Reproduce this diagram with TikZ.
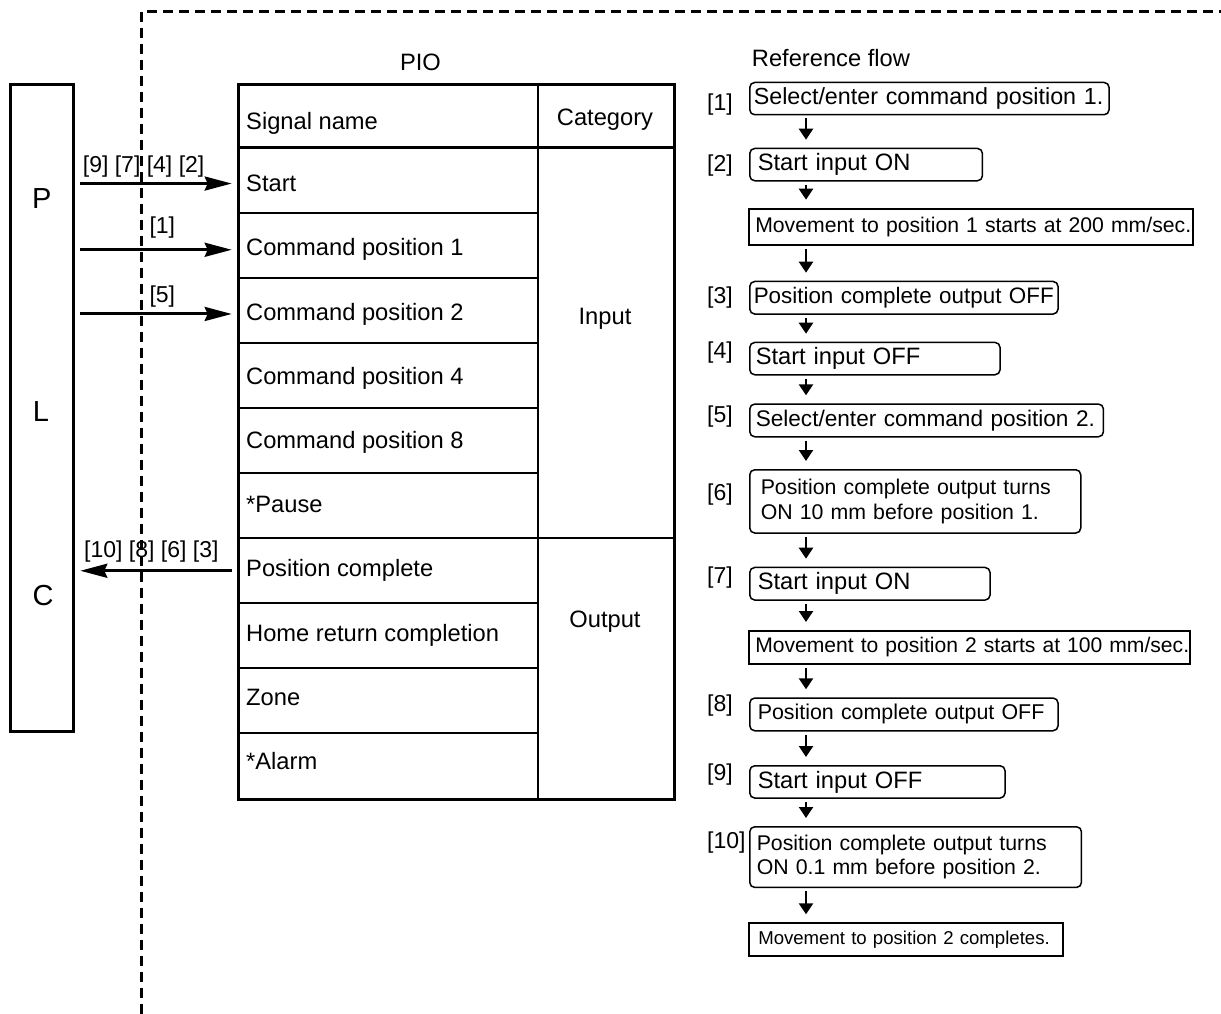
\documentclass[tikz,border=0pt]{standalone}
\usepackage{fontspec}
\setmainfont{Liberation Sans}
\usetikzlibrary{arrows.meta}
\newcommand\fsz[1]{\fontsize{#1}{24.4}\selectfont}
\tikzset{
  flowbox/.style={draw, line width=1.5pt, rounded corners=5pt, anchor=north west,
    align=left, inner xsep=6pt, inner ysep=0pt, font=\fsz{23.7}},
  movebox/.style={flowbox, sharp corners, line width=1.9pt, font=\fsz{21.2}},
  tag/.style={anchor=west, inner sep=0pt, font=\fsz{23}},
  sig/.style={anchor=base west, inner sep=0pt, font=\fsz{23.7}},
  cat/.style={anchor=base, inner sep=0pt, font=\fsz{23.7}},
  rowline/.style={line width=2pt},
  flowarr/.style={line width=2.4pt, -{Triangle[length=11pt,width=14pt]},
    shorten <=3pt, shorten >=8pt},
  plcarr/.style={line width=3pt, -{Stealth[length=27pt,width=14pt,inset=3pt]},
    shorten <=4.5pt, shorten >=5pt},
  sepline/.style={line width=2.6pt, dash pattern=on 10pt off 6pt},
}
\begin{document}
\begin{tikzpicture}[x=1pt, y=-1pt]
  \path[fill=white, use as bounding box] (0,0) rectangle (1221,1014);

  % boundary
  \draw[sepline] (141.7,1014) -- (141.7,11.7) -- (1221,11.7);

  % PLC
  \node[draw, line width=3pt, anchor=north west, minimum width=63.3pt,
    minimum height=646.7pt, inner sep=0pt] (plc) at (9,83.3) {};
  \node[font=\fsz{29}] (plcP) at (41.7,199) {P};
  \node[font=\fsz{29}] (plcL) at (41,412) {L};
  \node[font=\fsz{29}] (plcC) at (43,596) {C};

  % PIO table
  \node[font=\fsz{23.7}] (pioTitle) at (420.5,62) {PIO};
  \node[draw, line width=3pt, anchor=north west, minimum width=436.6pt,
    minimum height=714.4pt, inner sep=0pt] (pio) at (236.7,83.3) {};
  \draw[rowline] (537.7,83.3) -- (537.7,797.7);
  \draw[line width=3.4pt] (236.7,147.7) -- (673.3,147.7);
  \foreach \k in {1,...,9}
    \draw[rowline] (236.7,{147.7+65*\k}) -- (537.7,{147.7+65*\k});
  \draw[rowline] (537.7,537.7) -- (673.3,537.7);
  \node[sig] (hdrSig) at (246,130) {Signal name};
  \node[cat] (hdrCat) at (605,126) {Category};
  \node[cat] (catIn) at (605,324) {Input};
  \node[cat] (catOut) at (605,627.5) {Output};
  \foreach \s [count=\k from 0] in {Start, Command position 1, Command position 2,
      Command position 4, Command position 8, *Pause, Position complete,
      Home return completion, Zone, *Alarm}
    \node[sig] (sig\k) at (246,{191.7+64.2*\k}) {\s};

  % signals PLC <-> PIO
  \draw[plcarr] (plc.east |- sig0) -- (pio.west |- sig0);
  \draw[plcarr] (plc.east |- sig1) -- (pio.west |- sig1);
  \draw[plcarr] (plc.east |- sig2) -- (pio.west |- sig2);
  \draw[plcarr] (pio.west |- sig6) -- (plc.east |- sig6);
  \node[tag] (inStart) at (82.7,166.2) {[9] [7] [4] [2]};
  \node[tag] (inCmd1) at (149.3,227.2) {[1]};
  \node[tag] (inCmd2) at (149.3,297) {[5]};
  \node[tag] (outPend) at (84,551.3) {[10] [8] [6] [3]};

  % reference flow
  \node[anchor=west, inner sep=0pt, font=\fsz{23.7}] (refTitle) at (751.7,58) {Reference flow};
  \node[flowbox, inner xsep=4pt, text width=351.3pt, minimum height=32.3pt, font=\fsz{23.3}]
    (f1) at (749,81.7) {\mbox{Select/enter command position 1.}};
  \node[flowbox, inner xsep=8pt, text width=216.7pt, minimum height=32.3pt]
    (f2) at (749,147.7) {\mbox{Start input ON}};
  \node[movebox, text width=432pt, minimum height=36.6pt]
    (m1) at (748.3,207.7) {\mbox{Movement to position 1 starts at 200 mm/sec.}};
  \node[flowbox, inner xsep=4pt, text width=300.3pt, minimum height=32.6pt, font=\fsz{22.4}]
    (f3) at (749,280.7) {\mbox{Position complete output OFF}};
  \node[flowbox, text width=238.3pt, minimum height=32.3pt]
    (f4) at (749,341.7) {\mbox{Start input OFF}};
  \node[flowbox, text width=341.7pt, minimum height=32.7pt, font=\fsz{22.6}]
    (f5) at (749,403.3) {\mbox{Select/enter command position 2.}};
  \node[flowbox, inner xsep=11pt, text width=309pt, minimum height=63.3pt, font=\fsz{21.3}]
    (f6) at (749,469) {Position complete output turns\\ON 10 mm before position 1.};
  \node[flowbox, inner xsep=8pt, text width=224.3pt, minimum height=32.6pt]
    (f7) at (749,566.7) {\mbox{Start input ON}};
  \node[movebox, text width=429pt, minimum height=32.7pt, font=\fsz{21.1}]
    (m2) at (748.3,630) {\mbox{Movement to position 2 starts at 100 mm/sec.}};
  \node[flowbox, inner xsep=8pt, text width=292.3pt, minimum height=32.7pt, font=\fsz{21.4}]
    (f8) at (749,697.3) {\mbox{Position complete output OFF}};
  \node[flowbox, inner xsep=8pt, text width=239.3pt, minimum height=32.3pt]
    (f9) at (749,765) {\mbox{Start input OFF}};
  \node[flowbox, inner xsep=7pt, text width=317.7pt, minimum height=60.7pt, font=\fsz{21.3}]
    (f10) at (749,826) {Position complete output turns\\ON 0.1 mm before position 2.};
  \node[movebox, inner xsep=9pt, text width=295.4pt, minimum height=32.7pt, font=\fsz{18.6}]
    (m3) at (748.3,922.3) {\mbox{Movement to position 2 completes.}};

  \coordinate (ax) at (806,0);
  \foreach \a/\b in {f1/f2, f2/m1, m1/f3, f3/f4, f4/f5, f5/f6, f6/f7, f7/m2,
      m2/f8, f8/f9, f9/f10, f10/m3}
    \draw[flowarr] (\a.south -| ax) -- (\b.north -| ax);

  \foreach \t/\y in {1/104.7, 2/165.8, 3/297.5, 4/352.5, 5/416.2, 6/494.2,
      7/577.2, 8/705.8, 9/774.2, 10/842.5}
    \node[tag] (tag\t) at (707,\y) {[\t]};
\end{tikzpicture}
\end{document}
